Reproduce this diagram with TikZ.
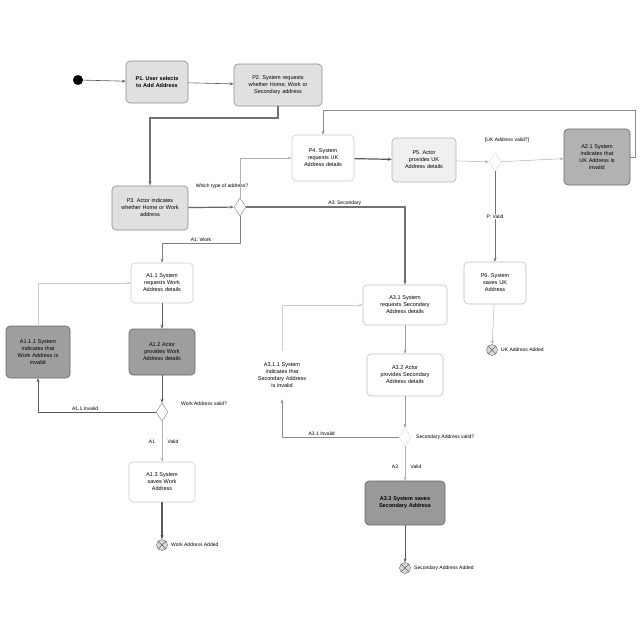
\documentclass[tikz,border=0pt]{standalone}
\usepackage{fontspec}
\setmainfont{Liberation Sans}
\usetikzlibrary{shapes.geometric,arrows.meta}
\frenchspacing
\begin{document}
\begin{tikzpicture}[x=1pt,y=-1pt,
  act/.style={draw=black!45,rounded corners=4pt,line width=0.6pt,align=center,
    font=\fontsize{5.5}{7}\selectfont,inner sep=2pt},
  actA/.style={act,fill=black!12},
  actB/.style={act,fill=black!30,draw=black!60},
  actW/.style={act},
  dec/.style={diamond,draw=black!50,fill=white,minimum width=12pt,minimum height=18pt,inner sep=0pt},
  lbl/.style={font=\fontsize{5}{6}\selectfont,inner sep=1pt},
  flow/.style={draw=black!65,line width=0.6pt,-{Stealth[length=4pt,width=3pt]}},
  faint/.style={draw=black!30,line width=0.5pt,-{Stealth[length=4pt,width=3pt]}},
  finalnode/.style={circle,draw=black!60,fill=black!15,minimum size=11pt,inner sep=0pt}
]
\useasboundingbox (0,0) rectangle (640,640);
\fill[white] (0,0) rectangle (640,640);

% start
\node[circle,fill=black,minimum size=10pt,inner sep=0pt] (start) at (78,80) {};

% main flow
\node[actA,font=\fontsize{5.5}{7}\selectfont\bfseries,minimum width=62pt,minimum height=42pt,text width=54pt] (p1) at (157,82) {P1. User selects\\to Add Address};
\node[actA,minimum width=88pt,minimum height=42pt,text width=80pt] (p2) at (278,85) {P2. System requests\\whether Home, Work or\\Secondary address};
\node[actA,minimum width=76pt,minimum height=44pt,text width=70pt] (p3) at (150,208) {P3. Actor indicates\\whether Home or Work\\address};
\node[dec] (d1) at (240,207) {};
\node[lbl] (d1l) at (222,186) {Which type of address?};

\node[actW,draw=black!20,minimum width=62pt,minimum height=46pt,text width=58pt] (p4) at (323,158) {P4. System\\requests UK\\Address details};
\node[actA,draw=black!30,fill=black!6,minimum width=64pt,minimum height=44pt,text width=58pt] (p5) at (424,160) {P5. Actor\\provides UK\\Address details};
\node[dec,draw=black!15] (d2) at (495,162) {};
\node[lbl] (d2l) at (507,140) {[UK Address valid?]};
\node[actB,minimum width=66pt,minimum height=56pt,text width=60pt] (a21) at (597,157) {A2.1 System\\indicates that\\UK Address is\\invalid};
\node[actW,draw=black!25,minimum width=62pt,minimum height=42pt,text width=58pt] (p6) at (495,283) {P6. System\\saves UK\\Address};
\node[finalnode] (f1) at (492,350) {};
\node[lbl,anchor=west] (f1l) at (500,350) {UK Address Added};

% A1 branch (Work)
\node[actW,draw=black!20,minimum width=62pt,minimum height=40pt,text width=58pt] (a11) at (162,283) {A1.1 System\\requests Work\\Address details};
\node[actB,fill=black!38,minimum width=66pt,minimum height=46pt,text width=60pt] (a12) at (162,352) {A1.2 Actor\\provides Work\\Address details};
\node[dec] (d3) at (162,412) {};
\node[lbl,anchor=west] (d3l) at (180,404) {Work Address valid?};
\node[actB,fill=black!38,minimum width=64pt,minimum height=52pt,text width=60pt] (a111) at (38,352) {A1.1.1 System\\indicates that\\Work Address is\\invalid};
\node[actW,draw=black!20,minimum width=66pt,minimum height=40pt,text width=60pt] (a13) at (162,482) {A1.3 System\\saves Work\\Address};
\node[finalnode] (f2) at (162,545) {};
\node[lbl,anchor=west] (f2l) at (170,545) {Work Address Added};

% A3 branch (Secondary)
\node[actW,draw=black!25,minimum width=84pt,minimum height=40pt,text width=78pt] (a31) at (405,305) {A3.1 System\\requests Secondary\\Address details};
\node[actW,draw=black!25,minimum width=76pt,minimum height=42pt,text width=72pt] (a32) at (405,375) {A3.2 Actor\\provides Secondary\\Address details};
\node[dec,draw=black!15] (d4) at (405,437) {};
\node[lbl,anchor=west] (d4l) at (415,437) {Secondary Address valid?};
\node[act,draw=none,minimum width=70pt,minimum height=48pt,text width=68pt] (a311) at (282,375) {A3.1.1 System\\indicates that\\Secondary Address\\is invalid};
\node[actB,fill=black!40,font=\fontsize{5.5}{7}\selectfont\bfseries,minimum width=80pt,minimum height=44pt,text width=74pt] (a33) at (405,503) {A3.3 System saves\\Secondary Address};
\node[finalnode] (f3) at (405,568) {};
\node[lbl,anchor=west] (f3l) at (413,568) {Secondary Address Added};

% crosses in final nodes
\foreach \f in {f1,f2,f3}{
  \draw[black!60,line width=0.5pt] (\f.north west) -- (\f.south east) (\f.north east) -- (\f.south west);
}

% coordinates for bends
\coordinate (c1) at (278,118);
\coordinate (c2) at (150,118);
\coordinate (c3) at (240,158);
\coordinate (c4) at (405,207);
\coordinate (c5) at (240,243);
\coordinate (c6) at (162,243);
\coordinate (c7) at (635,157);
\coordinate (c8) at (635,110);
\coordinate (c9) at (323,110);

% connectors
\draw[flow] (start) -- (p1);
\draw[flow] (p1) -- (p2);
\draw[flow,line width=1.4pt,draw=black!55] (p2.south) -- (c1) -- (c2) -- (p3.north);
\draw[flow,line width=1.2pt,draw=black!60] (p3) -- (d1);
\draw[faint] (d1.north) -- (c3) -- (p4.west);
\draw[flow,line width=1.2pt,draw=black!55] (d1.east) -- node[lbl,pos=0.62,above] (l1) {A3: Secondary} (c4) -- (a31.north);
\draw[faint,draw=black!50] (d1.south) -- (c5) -- node[lbl,above] (l2) {A1: Work} (c6) -- (a11.north);
\draw[flow,line width=1.2pt] (p4) -- (p5);
\draw[faint] (p5) -- (d2);
\draw[faint] (d2) -- (a21);
\draw[flow,draw=black!45] (a21.east) -- (c7) -- (c8) -- (c9) -- (p4.north);
\draw[flow,draw=black!55] (d2.south) -- node[lbl,fill=white] (l3) {P: Valid} (p6.north);
\draw[faint] (p6) -- (f1);

\draw[flow] (a11) -- (a12);
\draw[flow] (a12) -- (d3);
\draw[flow] (d3.west) -| node[lbl,above,pos=0.3] (l4) {A1.1 Invalid} (a111.south);
\draw[faint,draw=black!20] (a111.north) |- (a11.west);
\draw[faint] (d3.south) -- (a13.north);
\node[lbl] (l5) at (152,442) {A1};
\node[lbl] (l6) at (173,442) {Valid};
\draw[flow,line width=1.2pt] (a13) -- (f2);

\draw[faint,draw=black!40] (a31) -- (a32);
\draw[faint,draw=black!40] (a32) -- (d4);
\draw[flow,draw=black!45] (d4.west) -| node[lbl,above,pos=0.33] (l7) {A3.1 Invalid} (a311.south);
\draw[faint,draw=black!20] (a311.north) |- (a31.west);
\draw[faint] (d4.south) -- (a33.north);
\node[lbl] (l8) at (395,467) {A3};
\node[lbl] (l9) at (416,467) {Valid};
\draw[flow] (a33) -- (f3);
\end{tikzpicture}
\end{document}
